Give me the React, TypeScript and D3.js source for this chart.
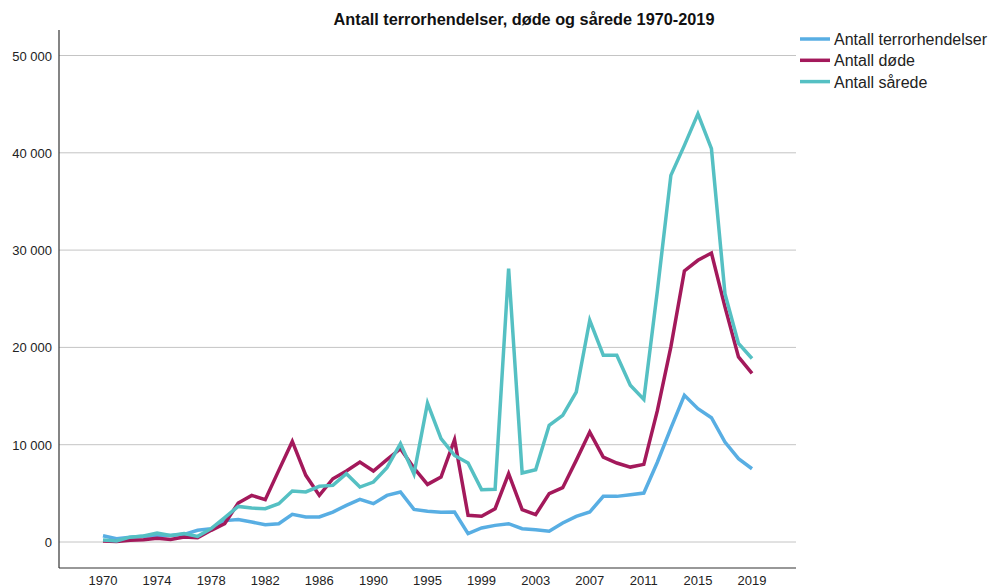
import React from "react";
import * as d3 from "d3";

const years = [
  "1970","1971","1972","1973","1974","1975","1976","1977","1978","1979",
  "1980","1981","1982","1983","1984","1985","1986","1987","1988","1989",
  "1990","1991","1992","1994","1995","1996","1997","1998","1999","2000",
  "2001","2002","2003","2004","2005","2006","2007","2008","2009","2010",
  "2011","2012","2013","2014","2015","2016","2017","2018","2019",
];

const incidents = [
  650, 340, 500, 580, 680, 680, 790, 1200, 1370, 2200,
  2300, 2050, 1780, 1880, 2840, 2570, 2570, 3080, 3770, 4380,
  3940, 4790, 5140, 3350, 3150, 3050, 3080, 860, 1440, 1710,
  1880, 1370, 1270, 1100, 1950, 2640, 3080, 4690, 4690, 4860,
  5030, 8200, 11700, 15070, 13700, 12770, 10270, 8560, 7530,
];

const deaths = [
  100, 50, 170, 240, 380, 270, 510, 450, 1200, 1880,
  4000, 4790, 4350, 7360, 10340, 6850, 4790, 6500, 7290, 8220,
  7290, 8460, 9590, 7600, 5920, 6680, 10510, 2740, 2640, 3420,
  7020, 3320, 2810, 4970, 5580, 8390, 11300, 8730, 8120, 7700,
  7980, 13500, 20050, 27860, 28950, 29700, 24160, 19030, 17320,
];

const injured = [
  200, 100, 500, 620, 920, 680, 860, 580, 1370, 2500,
  3660, 3490, 3420, 3940, 5240, 5140, 5720, 5820, 7020, 5650,
  6160, 7640, 10100, 7000, 14280, 10620, 8900, 8120, 5380, 5410,
  28100, 7090, 7430, 11990, 13010, 15400, 22790, 19200, 19200, 16120,
  14650, 25800, 37680, 40760, 44010, 40420, 25530, 20400, 18860,
];

const seriesNames = ["Antall terrorhendelser", "Antall døde", "Antall sårede"];
const seriesColors = ["#58aee3", "#a3195b", "#55c0c3"];
const yTicks = [0, 10000, 20000, 30000, 40000, 50000];
const xTickYears = ["1970","1974","1978","1982","1986","1990","1995","1999","2003","2007","2011","2015","2019"];

const FONT = "'Liberation Sans', Arial, sans-serif";

export default function App() {
  const W = 991, H = 588;
  const left = 59, right = 796, top = 30, bottom = 568;
  const x = d3.scalePoint<string>().domain(years).range([103, 752]);
  const y = d3.scaleLinear().domain([0, 50000]).range([542, 55.5]);
  const fmt = (v: number) => d3.format(",")(v).replace(/,/g, " ");
  const line = d3
    .line<number>()
    .x((_, i) => x(years[i]) as number)
    .y((d) => y(d));
  const data = [incidents, deaths, injured];

  return (
    <svg
      width={W}
      height={H}
      style={{ position: "absolute", left: 0, top: 0, background: "#fff" }}
      fontFamily={FONT}
    >
      <text x={524} y={25} textAnchor="middle" fontSize={16.3} fontWeight="bold" fill="#111">
        Antall terrorhendelser, døde og sårede 1970-2019
      </text>
      {yTicks.map((t) => (
        <g key={t}>
          <line x1={left} x2={right} y1={y(t)} y2={y(t)} stroke="#c4c4c4" strokeWidth={1} />
          <text x={52} y={y(t) + 5} textAnchor="end" fontSize={13} fill="#222">
            {fmt(t)}
          </text>
        </g>
      ))}
      <line x1={left} x2={left} y1={top} y2={bottom} stroke="#333" strokeWidth={1.2} />
      <line x1={left} x2={right} y1={bottom} y2={bottom} stroke="#333" strokeWidth={1.2} />
      {xTickYears.map((yr) => (
        <text key={yr} x={x(yr)} y={585} textAnchor="middle" fontSize={13} fill="#222">
          {yr}
        </text>
      ))}
      {data.map((d, i) => (
        <path
          key={i}
          d={line(d) || ""}
          fill="none"
          stroke={seriesColors[i]}
          strokeWidth={3.5}
          strokeLinejoin="miter"
          strokeMiterlimit={4}
        />
      ))}
      {seriesNames.map((n, i) => (
        <g key={n}>
          <line x1={800} x2={830} y1={39 + i * 21.3} y2={39 + i * 21.3} stroke={seriesColors[i]} strokeWidth={3.5} />
          <text x={834} y={45 + i * 21.3} fontSize={16} fill="#222">
            {n}
          </text>
        </g>
      ))}
    </svg>
  );
}
